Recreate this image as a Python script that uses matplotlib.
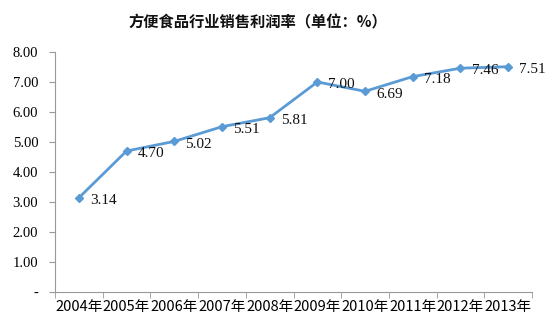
import matplotlib
matplotlib.use("Agg")
import matplotlib.pyplot as plt
import numpy as np

years = ["2004年", "2005年", "2006年", "2007年", "2008年", "2009年", "2010年", "2011年", "2012年", "2013年"]
values = [3.14, 4.70, 5.02, 5.51, 5.81, 7.00, 6.69, 7.18, 7.46, 7.51]
yticks = [0, 1, 2, 3, 4, 5, 6, 7, 8]
ytick_labels = ["-", "1.00", "2.00", "3.00", "4.00", "5.00", "6.00", "7.00", "8.00"]
title = "方便食品行业销售利润率（单位：%）"

fig = plt.figure(figsize=(5.47, 3.27), dpi=100)
ax = fig.add_axes([55/547, 1-292/327, (532-55)/547, (292-52)/327])

x = np.arange(len(years))
color = "#5B9BD5"
ax.plot(x, values, color=color, lw=2, marker="D", ms=4, mec=color, mfc=color)

for xi, v in zip(x, values):
    ax.annotate(f"{v:.2f}", (xi, v), xytext=(8, -2), textcoords="offset points",
                ha="left", va="center", fontsize=11, family="Liberation Serif", color="#111111")

ax.set_xlim(-0.5, len(years)-0.5)
ax.set_ylim(0, 8)
ax.set_yticks(yticks)
ax.set_yticklabels(ytick_labels, family="Liberation Serif", fontsize=10.5)
ax.set_xticks(x)
ax.set_xticklabels(years, family=["Noto Sans CJK SC", "DejaVu Sans"], fontsize=10.5)
ax.set_xticks(np.arange(len(years)+1)-0.5, minor=True)
ax.tick_params(axis="x", which="major", length=0, pad=6)
ax.tick_params(axis="x", which="minor", length=4, color="#999999", direction="out")
ax.tick_params(axis="y", length=4, color="#999999", direction="out", pad=8)

for s in ["top", "right"]:
    ax.spines[s].set_visible(False)
for s in ["left", "bottom"]:
    ax.spines[s].set_color("#999999")
    ax.spines[s].set_linewidth(0.8)

fig.text(258/547, 1-22/327, title, ha="center", va="center", fontsize=11,
         family=["Noto Sans CJK SC", "DejaVu Sans"], fontweight="bold", color="#111111")

fig.savefig("out.png", dpi=100)
